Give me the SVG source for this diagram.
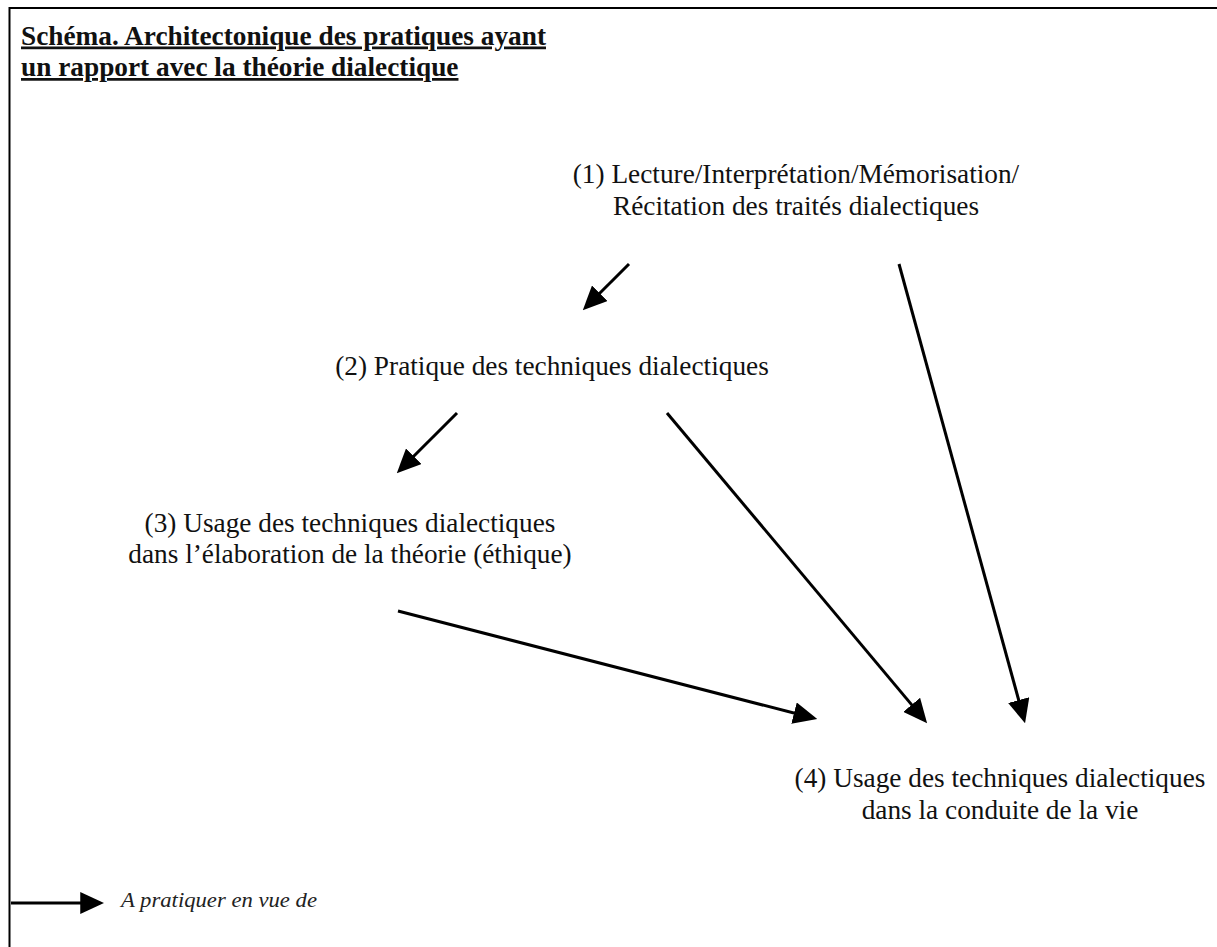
<svg xmlns="http://www.w3.org/2000/svg" width="1217" height="947" viewBox="0 0 1217 947">
<style>
.t{font-family:"Liberation Serif","Times New Roman",serif;font-size:27.3px;fill:#111;text-anchor:middle}
.title{font-family:"Liberation Serif","Times New Roman",serif;font-size:27.3px;font-weight:bold;fill:#111;text-decoration:underline}
.leg{font-family:"Liberation Serif","Times New Roman",serif;font-size:21px;font-style:italic;fill:#222}
.c{stroke:#000;stroke-width:3;fill:none;marker-end:url(#ah)}
</style>
<defs>
<marker id="ah" markerUnits="userSpaceOnUse" markerWidth="24" markerHeight="22" viewBox="0 0 23 21" refX="17" refY="10.5" orient="auto">
<path d="M0,0 L23,10.5 L0,21 z" fill="#000"/>
</marker>
</defs>
<rect width="1217" height="947" fill="#fff"/>
<path d="M9.5,947 V8 H1217" fill="none" stroke="#000" stroke-width="2"/>
<g id="title">
<text class="title" x="21" y="44.5">Schéma. Architectonique des pratiques ayant</text>
<text class="title" x="21" y="76">un rapport avec la théorie dialectique</text>
</g>
<g id="n1">
<text class="t" x="796" y="183">(1) Lecture/Interprétation/Mémorisation/</text>
<text class="t" x="796" y="215">Récitation des traités dialectiques</text>
</g>
<g id="n2">
<text class="t" x="552" y="375">(2) Pratique des techniques dialectiques</text>
</g>
<g id="n3">
<text class="t" x="350" y="532">(3) Usage des techniques dialectiques</text>
<text class="t" x="350" y="563">dans l’élaboration de la théorie (éthique)</text>
</g>
<g id="n4">
<text class="t" x="1000" y="787">(4) Usage des techniques dialectiques</text>
<text class="t" x="1000" y="819">dans la conduite de la vie</text>
</g>
<g id="connectors">
<line class="c" x1="629" y1="264" x2="587.2" y2="305.8"/>
<line class="c" x1="899" y1="264" x2="1023.4" y2="717.2"/>
<line class="c" x1="457" y1="413" x2="401.2" y2="468.8"/>
<line class="c" x1="667" y1="413" x2="923.1" y2="718.4"/>
<line class="c" x1="398" y1="611" x2="811.2" y2="717.5"/>
</g>
<g id="legend">
<line class="c" x1="11" y1="903" x2="98" y2="903"/>
<text class="leg" x="121" y="907" textLength="196" lengthAdjust="spacingAndGlyphs">A pratiquer en vue de</text>
</g>
</svg>
